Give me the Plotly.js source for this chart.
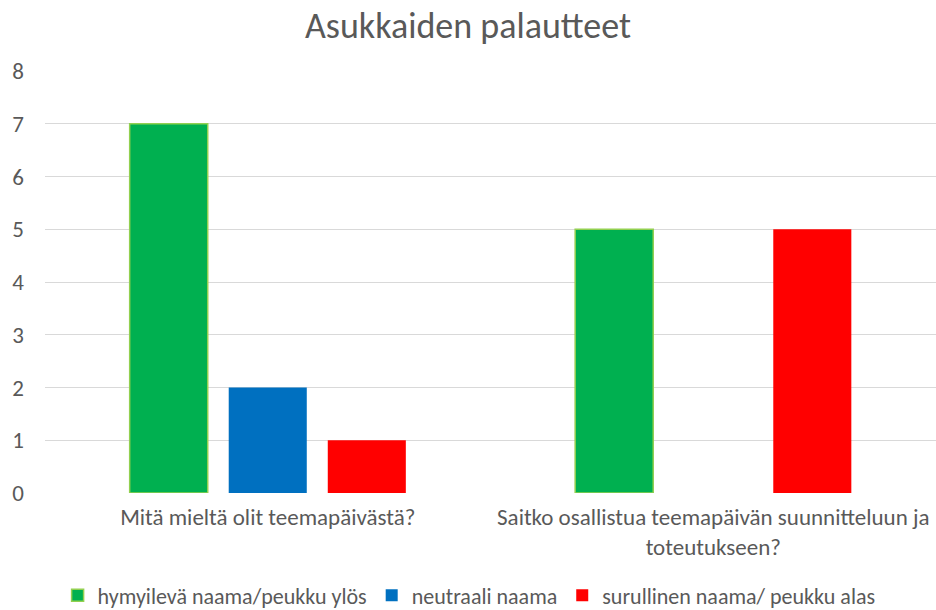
<!DOCTYPE html>
<html>
<head>
<meta charset="utf-8">
<script src="https://cdn.plot.ly/plotly-3.0.1.min.js"></script>
<style>html,body{margin:0;padding:0;background:#fff;}#chart{width:936px;height:610px;}</style>
</head>
<body>
<div id="chart"></div>
<script>
const categories = ["Mitä mieltä olit teemapäivästä?", "Saitko osallistua teemapäivän suunnitteluun ja<br>toteutukseen?"];
const seriesNames = ["hymyilevä naama/peukku ylös", "neutraali naama", "surullinen naama/ peukku alas"];
const happyValues = [7, 5];
const neutralValues = [2, null];
const sadValues = [1, 5];
const yTicks = [0, 1, 2, 3, 4, 5, 6, 7, 8];

const font = "Carlito, Calibri, Lato, sans-serif";
const traces = [
  {type: "bar", name: seriesNames[0], x: categories, y: happyValues,
   marker: {color: "#00b050", line: {color: "#92d050", width: 1.5}}},
  {type: "bar", name: seriesNames[1], x: categories, y: neutralValues,
   marker: {color: "#0070c0"}},
  {type: "bar", name: seriesNames[2], x: categories, y: sadValues,
   marker: {color: "#ff0000"}}
];
const layout = {
  width: 936, height: 610,
  margin: {l: 45, r: 0, t: 71, b: 117, autoexpand: false},
  paper_bgcolor: "#fff", plot_bgcolor: "#fff",
  font: {family: font, color: "#595959", size: 23},
  title: {text: "Asukkaiden palautteet", font: {size: 36, color: "#595959", family: font},
          x: 0.5, xanchor: "center", y: 0.959, yanchor: "middle", yref: "container"},
  barmode: "group", bargap: 0.333, bargroupgap: 0.212,
  xaxis: {type: "category", showgrid: false, zeroline: false, showline: false, ticks: "",
          tickfont: {size: 23, color: "#595959"}, automargin: false, ticklabelstandoff: 8},
  yaxis: {range: [0, 8], tickvals: yTicks, showgrid: true, gridcolor: "#d9d9d9", gridwidth: 1,
          zeroline: false, showline: false, ticks: "", ticklabelstandoff: 20, automargin: false,
          tickfont: {size: 23, color: "#595959"}},
  legend: {orientation: "h", x: 0.476, xanchor: "center", y: 0.024, yanchor: "middle", yref: "container",
           font: {size: 22, color: "#595959"}, itemwidth: 30},
  showlegend: true
};
Plotly.newPlot("chart", traces, layout, {displayModeBar: false, staticPlot: true});
</script>
</body>
</html>
